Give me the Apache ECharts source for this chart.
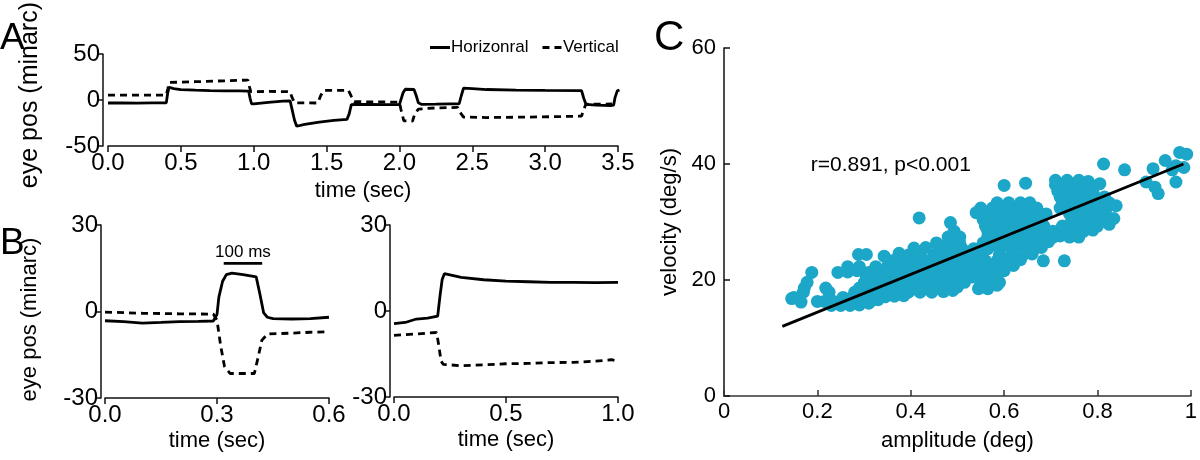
<!DOCTYPE html>
<html><head><meta charset="utf-8">
<script src="https://cdn.jsdelivr.net/npm/echarts@6/dist/echarts.min.js"></script>
<style>html,body{margin:0;padding:0;background:#fff}#c{width:1200px;height:460px}</style>
</head><body><div id="c"></div>
<script>
// ---- Panel A: eye position traces (time sec, minarc)
const aHorizontal = [[0,-3.2],[0.1,-3.0],[0.2,-3.3],[0.3,-3.1],[0.40,-3.0],[0.41,8],[0.42,14],[0.45,12.5],[0.5,11.5],[0.6,10.8],[0.7,10.3],[0.8,10.1],[0.9,10.0],[0.965,9.8],[0.975,2],[0.985,-4],[1.0,-4.2],[1.1,-2.5],[1.2,-1.2],[1.25,-0.9],[1.26,-8],[1.28,-22],[1.295,-28.5],[1.35,-26.5],[1.45,-24],[1.55,-22],[1.64,-21],[1.655,-15],[1.67,-5],[1.7,-4.6],[1.8,-4.8],[1.9,-5],[2.0,-5],[2.01,-3],[2.025,8],[2.04,11.8],[2.1,11.5],[2.115,5],[2.13,-3],[2.15,-4.6],[2.25,-4.5],[2.35,-4.2],[2.41,-4],[2.425,5],[2.44,13],[2.5,12.5],[2.6,11.5],[2.8,10.8],[3.0,10.5],[3.25,10.3],[3.265,2],[3.28,-4.6],[3.35,-5.5],[3.45,-6],[3.47,-5.5],[3.48,3],[3.495,10],[3.51,11]];
const aVertical = [[0,5.5],[0.2,5.5],[0.40,5.5],[0.41,12],[0.42,19.2],[0.6,20],[0.8,21],[0.96,21.8],[0.97,15],[0.98,9.2],[1.1,9.4],[1.25,9.2],[1.26,4],[1.28,-3],[1.44,-3.2],[1.46,5],[1.48,10.6],[1.65,10.6],[1.67,4],[1.69,-1.7],[1.8,-2],[2.0,-2.2],[2.01,-10],[2.03,-22.5],[2.09,-23],[2.105,-15],[2.13,-9.8],[2.25,-8.5],[2.40,-8],[2.41,-12],[2.44,-18.5],[2.6,-19],[2.9,-18.5],[3.25,-17.5],[3.265,-10],[3.28,-4.6],[3.46,-4.2]];
// ---- Panel B (left): single saccade, 0-0.6 s
const bLeftHorizontal = [[0,-3.2],[0.05,-3.5],[0.1,-4.0],[0.15,-3.8],[0.2,-3.5],[0.25,-3.4],[0.29,-3.3],[0.30,-1],[0.305,5],[0.315,10.5],[0.325,12.8],[0.34,13.3],[0.37,12.8],[0.405,12.0],[0.415,6],[0.425,-0.5],[0.435,-2],[0.45,-2.5],[0.5,-2.6],[0.55,-2.5],[0.6,-2.0]];
const bLeftVertical = [[0,-0.2],[0.1,-0.6],[0.2,-0.8],[0.29,-0.9],[0.30,-3],[0.31,-12],[0.32,-19],[0.335,-21.5],[0.40,-21.5],[0.41,-16],[0.42,-10],[0.435,-7.8],[0.5,-7.5],[0.55,-7.2],[0.6,-7.0]];
const scaleBar = [[0.318,16.7],[0.421,16.7]];
const scaleBarLabel = '100 ms';
const scaleBarLabelAt = [0.3695,16.7];
// ---- Panel B (right): 0-1.0 s
const bRightHorizontal = [[0,-4.4],[0.05,-4.0],[0.1,-2.8],[0.15,-2.5],[0.195,-1.8],[0.205,5],[0.215,11],[0.225,13],[0.25,12.6],[0.3,11.7],[0.4,10.9],[0.5,10.4],[0.6,10.2],[0.7,10.0],[0.8,10.0],[0.9,9.9],[1.0,10.0]];
const bRightVertical = [[0,-8.5],[0.1,-8.0],[0.19,-7.5],[0.2,-12],[0.21,-17.5],[0.22,-18.6],[0.3,-19.1],[0.4,-18.8],[0.5,-18.4],[0.6,-18.3],[0.7,-18.0],[0.8,-17.9],[0.9,-17.5],[0.97,-17.0],[1.0,-17.5]];
// ---- Panel C: amplitude (deg) vs velocity (deg/s)
const cPoints = [
[0.230,15.6],[0.250,15.6],[0.270,15.6],[0.290,15.7],[0.310,16.0],
[0.145,16.8],[0.165,16.2],[0.200,16.3],[0.215,16.3],[0.235,16.3],[0.255,16.3],[0.275,16.3],[0.295,16.3],[0.315,16.4],[0.330,16.6],
[0.150,17.0],[0.255,17.0],[0.275,17.0],[0.300,17.0],[0.320,17.0],[0.345,17.1],[0.365,17.2],[0.385,17.3],
[0.170,17.9],[0.225,17.9],[0.280,17.9],[0.300,17.9],[0.325,17.9],[0.350,17.9],[0.375,17.9],[0.395,17.9],[0.420,17.9],[0.445,17.9],[0.470,18.0],[0.490,18.2],
[0.172,18.6],[0.218,18.6],[0.290,18.6],[0.310,18.6],[0.335,18.6],[0.360,18.6],[0.385,18.6],[0.410,18.6],[0.435,18.6],[0.460,18.6],[0.480,18.6],[0.500,18.8],[0.545,18.5],[0.565,18.5],[0.585,19.1],
[0.178,19.6],[0.300,19.5],[0.320,19.5],[0.345,19.5],[0.370,19.5],[0.395,19.5],[0.420,19.5],[0.445,19.5],[0.470,19.5],[0.495,19.5],[0.515,19.6],[0.550,19.4],[0.570,19.5],[0.590,19.6],
[0.305,20.5],[0.330,20.5],[0.355,20.5],[0.380,20.5],[0.405,20.5],[0.430,20.5],[0.455,20.5],[0.480,20.5],[0.505,20.5],[0.530,20.5],[0.555,20.6],[0.580,20.8],
[0.188,21.3],[0.244,21.3],[0.265,21.4],[0.285,21.6],[0.310,21.3],[0.335,21.3],[0.360,21.3],[0.385,21.3],[0.410,21.3],[0.435,21.3],[0.460,21.3],[0.485,21.3],[0.510,21.3],[0.535,21.3],[0.560,21.3],[0.585,21.4],[0.600,21.6],
[0.265,22.3],[0.290,22.3],[0.325,22.3],[0.350,22.3],[0.375,22.3],[0.400,22.3],[0.425,22.3],[0.450,22.3],[0.475,22.3],[0.500,22.3],[0.525,22.3],[0.550,22.3],[0.575,22.3],[0.600,22.3],[0.620,22.5],
[0.360,23.3],[0.385,23.3],[0.410,23.3],[0.435,23.3],[0.460,23.3],[0.485,23.3],[0.510,23.3],[0.535,23.3],[0.560,23.3],[0.585,23.3],[0.610,23.3],[0.635,23.5],[0.684,23.3],[0.729,23.3],
[0.288,24.4],[0.305,24.4],[0.343,24.1],[0.375,24.6],[0.395,24.3],[0.420,24.3],[0.450,24.3],[0.475,24.3],[0.500,24.3],[0.525,24.3],[0.550,24.3],[0.590,24.3],[0.615,24.3],[0.640,24.3],[0.660,24.5],
[0.407,25.5],[0.432,25.6],[0.460,25.4],[0.485,25.4],[0.510,25.4],[0.535,25.4],[0.565,25.4],[0.590,25.4],[0.615,25.4],[0.640,25.4],[0.665,25.4],[0.680,25.6],
[0.455,26.4],[0.480,26.4],[0.505,26.4],[0.555,26.4],[0.580,26.4],[0.605,26.4],[0.630,26.4],[0.655,26.4],[0.680,26.4],[0.695,26.6],
[0.480,27.4],[0.505,27.4],[0.565,27.4],[0.590,27.4],[0.615,27.4],[0.640,27.4],[0.665,27.4],[0.690,27.4],[0.705,27.4],[0.720,27.6],[0.740,27.4],[0.760,27.4],
[0.493,28.4],[0.565,28.4],[0.590,28.4],[0.615,28.4],[0.640,28.4],[0.665,28.4],[0.690,28.4],[0.705,28.4],[0.720,28.4],[0.745,28.4],[0.770,28.4],[0.790,28.6],
[0.485,29.9],[0.560,29.3],[0.585,29.3],[0.610,29.3],[0.635,29.3],[0.660,29.3],[0.685,29.3],[0.725,29.3],[0.750,29.3],[0.775,29.3],[0.800,29.3],[0.825,29.6],
[0.418,30.7],[0.555,30.4],[0.580,30.4],[0.605,30.4],[0.630,30.4],[0.655,30.4],[0.680,30.4],[0.745,30.4],[0.770,30.4],[0.795,30.4],[0.820,30.4],[0.835,30.6],
[0.540,31.6],[0.565,31.4],[0.590,31.4],[0.615,31.4],[0.640,31.4],[0.665,31.4],[0.690,31.4],[0.740,31.4],[0.765,31.4],[0.790,31.4],[0.815,31.4],
[0.550,32.4],[0.575,32.4],[0.600,32.4],[0.625,32.4],[0.650,32.4],[0.670,32.4],[0.720,32.4],[0.745,32.4],[0.770,32.4],[0.795,32.4],[0.820,32.4],[0.840,32.8],
[0.585,33.3],[0.610,33.3],[0.635,33.3],[0.655,33.3],[0.725,33.3],[0.750,33.3],[0.775,33.3],[0.800,33.3],[0.825,33.3],
[0.720,34.3],[0.745,34.3],[0.770,34.3],[0.795,34.3],[0.815,34.3],[0.930,34.9],
[0.715,35.3],[0.740,35.3],[0.765,35.3],[0.790,35.3],[0.923,36.0],
[0.600,36.3],[0.646,36.7],[0.710,36.4],[0.735,36.4],[0.760,36.4],[0.785,36.4],[0.805,36.6],[0.904,36.9],[0.968,36.9],
[0.710,37.2],[0.735,37.2],[0.760,37.2],[0.780,37.0],
[0.858,39.0],[0.919,39.2],[0.960,39.0],[0.985,39.4],
[0.813,40.0],[0.945,40.6],[0.968,39.7],
[0.976,42.0],[0.991,41.7]
];
const cFit = [[0.125,12],[0.984,40]];
const cStatText = 'r=0.891, p<0.001';
const cStatAt = [0.186,39.8];

const aXTicks = {min:0,max:3.5,interval:0.5};
const aYTicks = {min:-50,max:50,interval:50};
const bLeftXTicks = {min:0,max:0.6,interval:0.3};
const bRightXTicks = {min:0,max:1,interval:0.5};
const bYTicks = {min:-30,max:30,interval:30};
const cXTicks = {min:0,max:1,interval:0.2};
const cYTicks = {min:0,max:60,interval:20};

const SANS = "'Liberation Sans',Arial,sans-serif";
const ink = '#000';

function xAx(grid, t, name, gap, fmt, size){
  return Object.assign({type:'value', gridIndex:grid, name:name, nameLocation:'middle', nameGap:gap,
    nameTextStyle:{fontFamily:SANS,fontSize:22,color:ink},
    axisLine:{show:true,onZero:false,lineStyle:{color:'#111',width:1.5}},
    axisTick:{show:true,length:6,lineStyle:{color:'#111',width:1.5}},
    axisLabel:{fontFamily:SANS,fontSize:size,color:ink,margin:5,formatter:fmt},
    splitLine:{show:false}}, t);
}
function yAx(grid, t, name, gap, offset, size, nameSize, pad, inside){
  return Object.assign({type:'value', gridIndex:grid, name:name, nameLocation:'middle', nameGap:gap, offset:offset,
    nameTextStyle:{fontFamily:SANS,fontSize:nameSize,color:ink,padding:pad},
    axisLine:{show:true,onZero:false,lineStyle:{color:'#111',width:1.5}},
    axisTick:{show:true,inside:!!inside,length:6,lineStyle:{color:'#111',width:1.5}},
    axisLabel:{fontFamily:SANS,fontSize:size,color:ink,margin:inside?8:3},
    splitLine:{show:false}}, t);
}
const fix1 = v => v.toFixed(1);
function line(name, data, x, y, dashed){
  return {name:name, type:'line', xAxisIndex:x, yAxisIndex:y, data:data, symbol:'none', smooth:false, clip:false,
    lineStyle:{color:'#000', width:2.8, type: dashed?[7,5]:'solid'}, itemStyle:{color:'#000'}, animation:false, silent:true};
}
const solidIcon = 'path://M0,0H20V3H0Z';
const dashIcon = 'path://M0,0H7V3H0Z M12,0H19V3H12Z';

const chart = echarts.init(document.getElementById('c'), null, {renderer:'canvas'});
chart.setOption({
  backgroundColor:'#fff',
  animation:false,
  grid:[
    {left:108, top:30, width:510, height:116},
    {left:105, top:225, width:224, height:173},
    {left:394, top:225, width:224, height:172},
    {left:724, top:48, width:473, height:348}
  ],
  xAxis:[
    xAx(0, aXTicks, 'time (sec)', 34, fix1, 24),
    xAx(1, bLeftXTicks, 'time (sec)', 32, fix1, 24),
    xAx(2, bRightXTicks, 'time (sec)', 32, fix1, 24),
    Object.assign(xAx(3, cXTicks, 'amplitude (deg)', 34, null, 22), {axisTick:{show:true,inside:true,length:6,lineStyle:{color:'#333',width:1.5}}, axisLine:{show:true,lineStyle:{color:'#333',width:1.5}}})
  ],
  yAxis:[
    yAx(0, aYTicks, 'eye pos (minarc)', 60, 5, 24, 25, [0,0,0,10]),
    yAx(1, bYTicks, 'eye pos (minarc)', 60, 4, 24, 22, [0,16,0,0]),
    yAx(2, bYTicks, '', 0, 4, 24, 22, [0,0,0,0]),
    yAx(3, cYTicks, 'velocity (deg/s)', 43, 0, 22, 22, [0,0,0,0], true)
  ],
  legend:{left:425, top:34, itemWidth:20, itemHeight:3, itemGap:14,
    textStyle:{fontFamily:SANS,fontSize:17,color:ink,padding:[0,0,0,-4]},
    data:[{name:'Horizonral', icon:solidIcon},{name:'Vertical', icon:dashIcon}]},
  series:[
    line('Horizonral', aHorizontal, 0, 0, false),
    line('Vertical', aVertical, 0, 0, true),
    line('Horizonral', bLeftHorizontal, 1, 1, false),
    line('Vertical', bLeftVertical, 1, 1, true),
    line('scale', scaleBar, 1, 1, false),
    line('Horizonral', bRightHorizontal, 2, 2, false),
    line('Vertical', bRightVertical, 2, 2, true),
    {type:'scatter', xAxisIndex:3, yAxisIndex:3, data:cPoints, symbol:'circle', symbolSize:13,
      itemStyle:{color:'#1ca6c8', opacity:1}, silent:true},
    {type:'line', xAxisIndex:3, yAxisIndex:3, data:cFit, symbol:'none', clip:false, lineStyle:{color:'#000', width:2.8}, silent:true}
  ]
});
// text annotations anchored through the chart's own scales
const pScale = chart.convertToPixel({gridIndex:1}, scaleBarLabelAt);
const pStat = chart.convertToPixel({gridIndex:3}, cStatAt);
chart.setOption({
  graphic:[
    {type:'text', left:0, top:20, style:{text:'A', font:'37px '+SANS, fill:ink}},
    {type:'text', left:0, top:225, style:{text:'B', font:'37px '+SANS, fill:ink}},
    {type:'text', left:654, top:17, style:{text:'C', font:'42px '+SANS, fill:ink}},
    {type:'text', x:pScale[0], y:pScale[1]-3, style:{text:scaleBarLabel, font:'17px '+SANS, fill:ink, align:'center', verticalAlign:'bottom'}},
    {type:'text', x:pStat[0], y:pStat[1], style:{text:cStatText, font:'21px '+SANS, fill:ink, align:'left', verticalAlign:'middle'}}
  ]
});
</script></body></html>
